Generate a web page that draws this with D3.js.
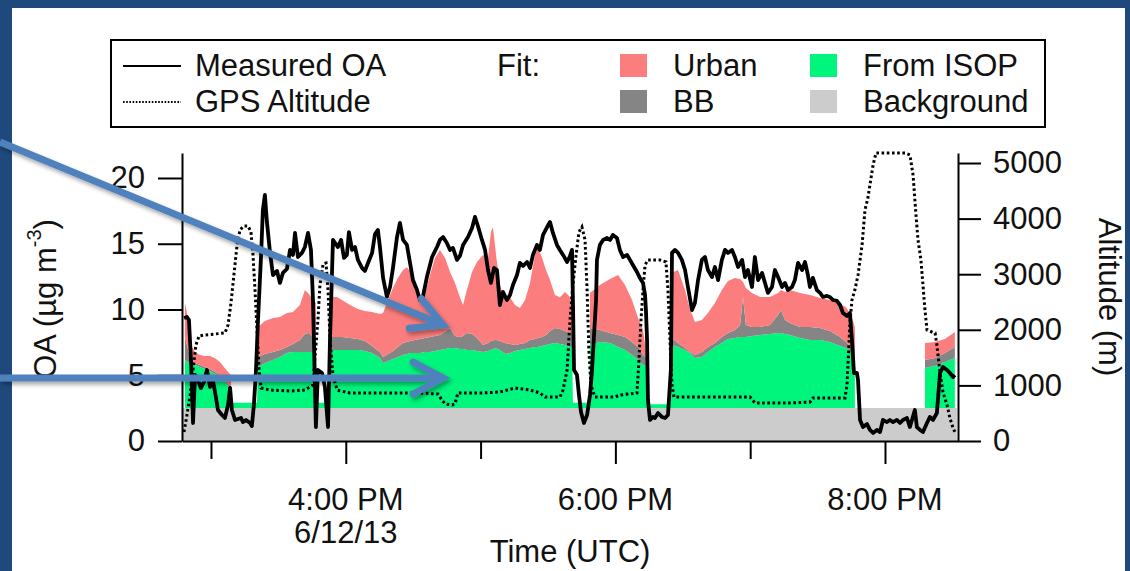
<!DOCTYPE html>
<html>
<head>
<meta charset="utf-8">
<script src="https://cdn.jsdelivr.net/npm/d3@7"></script>
<style>
  html, body { margin: 0; padding: 0; background: #1f497d; }
  svg { display: block; }
  text { font-family: "Liberation Sans", Arial, Helvetica, sans-serif; fill: #111; }
</style>
</head>
<body>
<svg id="chart" width="1130" height="571"></svg>
<script>
// ---- Flight of 6/12/13: times are minutes after 15:00 UTC ----

// Measured OA (µg m-3)
const oaTime = [-12.0,-10.7,-9.8,-8.9,-8.0,-7.1,-5.8,-4.5,-3.1,-1.8,-0.4,0.9,1.8,3.1,4.9,6.2,7.6,8.5,9.3,10.7,
  12.0,13.4,14.2,15.6,17.4,18.2,19.1,20.0,20.9,
  22.3,23.1,24.0,24.9,26.3,27.6,29.4,30.7,32.0,33.8,35.2,36.5,37.4,38.7,40.5,41.8,43.2,44.5,45.4,46.7,
  47.6,49.4,50.7,52.1,53.0,54.3,55.2,56.5,
  57.9,59.2,60.5,61.4,62.8,64.1,65.4,67.2,68.5,69.9,71.7,73.0,74.3,75.2,76.6,78.3,79.7,81.0,82.8,84.1,
  85.5,87.2,88.6,89.9,91.7,93.0,94.4,96.1,98.4,100.6,101.9,103.3,105.0,106.4,107.7,109.5,110.8,112.2,114.4,116.2,
  117.5,118.8,120.6,122.0,123.3,124.6,126.0,
  127.3,128.6,130.0,131.7,133.1,134.4,136.2,137.5,138.9,140.7,142.0,143.3,145.1,146.4,147.8,149.6,150.9,152.2,154.0,155.3,
  156.7,158.5,159.8,160.7,161.1,161.6,162.9,163.8,164.7,166.0,167.4,168.7,169.6,170.5,171.4,171.8,173.1,174.5,176.3,177.6,
  178.9,180.7,182.0,183.4,185.2,186.5,187.8,189.6,190.9,192.3,193.2,193.6,194.1,194.5,195.4,
  196.7,197.6,199.0,200.7,202.1,203.4,204.7,205.2,206.5,207.9,209.6,211.0,212.3,214.1,215.4,216.8,218.5,219.9,221.2,223.0,
  224.3,225.7,227.4,228.8,230.1,231.9,233.2,234.6,236.4,237.7,239.0,240.8,242.1,243.5,245.3,246.6,247.9,249.7,251.0,252.4,
  254.2,255.5,256.8,258.6,259.9,261.3,263.1,264.4,
  265.7,266.6,267.9,269.7,271.1,272.4,274.2,275.5,276.9,278.6,280.0,281.3,283.1,284.4,285.3,286.2,287.5,288.0,288.9,290.2,
  292.0,293.3,294.7,296.4,297.8,299.1,300.9,302.2,303.6,305.3,306.7,308.0,309.8,311.1,313.3,314.2,315.6,316.9,318.7,320.0,
  321.4,323.1,324.5,325.8,327.6,328.9,330.3,331.1];
const oaValue = [9.35,9.43,9.20,6.16,1.37,5.02,4.64,4.03,4.49,5.40,4.11,4.56,3.73,2.36,1.98,1.75,2.74,4.03,2.36,1.60,
  1.67,1.75,1.44,1.60,1.37,1.14,2.74,5.25,9.05,
  14.15,17.57,18.71,16.65,14.30,12.62,12.93,12.02,12.78,13.08,14.53,14.15,15.82,13.99,14.30,14.75,15.82,14.53,10.72,1.06,
  5.40,5.17,4.11,1.06,7.91,15.29,15.06,14.75,
  15.29,13.92,14.15,15.89,14.53,14.75,13.77,13.16,12.93,13.54,14.30,15.74,16.05,14.75,12.40,10.95,11.71,13.16,15.51,16.58,
  15.29,14.91,13.54,12.24,11.48,10.72,11.03,12.47,13.99,14.75,15.29,15.51,15.06,14.53,14.68,13.77,14.07,14.91,15.51,16.20,
  17.04,16.35,15.29,14.53,13.00,12.02,13.16,
  13.00,10.34,11.33,10.72,11.10,11.86,12.62,13.54,13.31,13.61,13.16,14.15,14.91,14.53,15.67,16.27,16.65,15.82,14.91,14.53,
  14.15,13.61,14.07,14.53,10.72,5.40,5.02,3.50,2.21,1.37,1.98,3.50,5.40,8.06,10.72,13.77,14.91,15.29,15.44,15.29,
  15.67,15.44,14.53,13.99,14.15,13.77,13.38,12.85,12.40,12.02,11.10,9.96,7.68,3.12,1.60,
  1.83,1.75,2.13,1.83,1.75,1.98,5.40,14.30,14.53,14.30,13.77,13.00,11.71,9.96,10.49,12.24,13.77,13.99,13.00,12.47,
  13.23,12.24,13.77,14.53,14.30,14.53,13.99,13.23,13.77,12.47,13.00,11.71,13.99,12.24,12.78,12.02,11.26,11.71,13.00,12.47,
  11.71,12.02,11.48,11.71,12.24,13.54,13.00,13.61,
  12.62,11.71,12.40,11.48,11.26,10.95,11.03,10.95,10.72,10.65,10.34,9.73,9.51,9.73,7.68,5.17,5.17,4.64,1.60,1.06,
  1.29,0.84,0.61,0.84,0.68,1.60,1.44,1.60,1.44,1.60,1.37,1.60,1.75,1.06,2.36,1.06,0.84,0.68,1.37,1.83,
  1.60,2.13,5.17,5.63,5.40,5.17,4.87,5.02];

// GPS altitude (m)
const altTime = [-12.0,-10.7,-9.3,-8.0,-6.7,-5.3,-2.7,1.8,6.2,7.6,8.9,10.2,11.6,12.9,14.7,16.5,17.8,18.7,19.6,20.5,
  21.4,22.3,26.3,35.2,41.8,45.4,46.3,47.6,48.5,49.9,51.2,52.1,53.0,54.3,56.1,61.9,75.2,93.0,101.0,102.8,
  104.2,107.3,108.6,109.9,119.7,128.6,135.3,142.0,146.4,148.7,155.3,156.7,158.5,159.8,161.1,162.5,163.8,165.1,166.5,167.4,
  168.2,169.1,170.9,179.8,182.0,189.6,190.5,191.4,192.3,193.2,194.5,199.8,202.5,203.4,204.3,205.2,206.1,217.6,239.9,242.1,
  257.7,266.6,267.9,282.2,283.1,284.4,285.3,286.6,288.0,289.8,291.1,292.4,293.3,294.7,296.0,302.2,308.9,311.1,312.5,313.8,
  314.7,316.0,316.9,317.8,318.7,320.9,322.3,323.1,324.5,325.8,327.6,328.9,330.3,331.1];
const altValue = [162,468,827,1277,1727,1889,1907,1925,1943,2087,2482,2986,3526,3796,3867,3867,3759,3345,2716,1997,
  1277,953,917,899,917,1007,1511,2176,2806,3183,3201,2716,1817,1187,917,863,863,863,845,737,
  666,648,666,863,863,881,953,917,863,791,791,917,1277,2176,2806,3346,3759,3849,3615,2716,
  1637,1007,791,791,827,863,1457,2176,2716,3166,3256,3256,3220,2716,1817,1007,791,791,791,684,
  684,702,774,774,1007,2122,2536,2716,2986,3526,4155,4371,4604,4964,5180,5180,5180,5144,4784,4065,
  3615,3256,2806,2356,1997,1961,1943,1727,1223,881,648,414,234,162];

// Fit components (µg m-3); null where the fit is not available
const fitTime = [-12.5,-11.6,-10.2,-8.9,-7.1,-4.9,-2.7,-0.4,1.8,4.0,6.2,7.6,8.9,
  9.3,20.5,
  20.9,24.0,27.6,30.7,33.8,36.5,39.6,41.8,43.6,45.4,46.7,
  47.2,53.0,
  53.4,56.1,58.3,61.9,65.4,68.5,71.7,75.2,76.6,78.8,
  81.0,83.2,85.5,87.2,88.6,90.8,93.0,95.3,97.5,99.7,
  101.9,104.2,106.4,108.6,110.8,112.2,113.9,116.2,118.4,121.1,
  123.3,124.6,125.5,126.9,128.6,130.9,133.1,135.3,137.5,139.8,
  142.0,144.2,145.5,147.3,149.1,150.9,153.1,155.3,157.6,159.8,160.7,
  161.1,168.2,
  168.7,173.1,177.6,181.2,184.3,187.4,190.1,192.3,193.6,
  194.1,204.3,
  204.7,207.9,211.0,213.2,215.4,218.5,221.2,224.3,227.4,230.1,
  233.2,235.5,236.8,238.1,240.8,244.4,248.8,252.4,253.7,255.5,
  257.7,262.2,266.6,271.1,275.5,280.0,282.6,284.9,286.6,
  287.1,317.4,
  317.8,322.3,326.7,331.1,332.0];
const fitBackground = [2.5,2.5,2.5,2.5,2.5,2.5,2.5,2.5,2.5,2.5,2.5,2.5,2.5,
  2.5,2.5,
  2.5,2.5,2.5,2.5,2.5,2.5,2.5,2.5,2.5,2.5,2.5,
  2.5,2.5,
  2.5,2.5,2.5,2.5,2.5,2.5,2.5,2.5,2.5,2.5,
  2.5,2.5,2.5,2.5,2.5,2.5,2.5,2.5,2.5,2.5,
  2.5,2.5,2.5,2.5,2.5,2.5,2.5,2.5,2.5,2.5,
  2.5,2.5,2.5,2.5,2.5,2.5,2.5,2.5,2.5,2.5,
  2.5,2.5,2.5,2.5,2.5,2.5,2.5,2.5,2.5,2.5,2.5,
  2.5,2.5,
  2.5,2.5,2.5,2.5,2.5,2.5,2.5,2.5,2.5,
  2.5,2.5,
  2.5,2.5,2.5,2.5,2.5,2.5,2.5,2.5,2.5,2.5,
  2.5,2.5,2.5,2.5,2.5,2.5,2.5,2.5,2.5,2.5,
  2.5,2.5,2.5,2.5,2.5,2.5,2.5,2.5,2.5,
  2.5,2.5,
  2.5,2.5,2.5,2.5,2.5];
const fitIsop = [null,3.66,3.51,3.35,3.28,3.13,2.97,2.82,2.59,2.37,1.98,1.68,1.53,
  0.4,0.4,
  3.13,3.43,3.66,3.89,4.19,4.27,4.27,4.27,4.27,4.27,4.19,
  0.4,0.4,
  4.42,4.42,4.42,4.42,4.42,4.34,4.19,3.81,3.43,3.58,
  3.73,3.89,4.04,4.11,4.19,4.19,4.19,4.27,4.27,4.34,
  4.42,4.49,4.57,4.57,4.49,4.49,4.42,4.42,4.34,4.27,
  4.34,4.42,4.49,4.57,4.42,4.11,4.19,4.34,4.42,4.49,
  4.57,4.65,4.65,4.72,4.80,4.87,4.95,4.87,4.80,4.65,4.65,
  0.4,0.4,
  4.80,5.03,4.95,4.65,4.42,4.04,3.66,3.28,3.20,
  0.3,0.3,
  4.80,4.65,4.42,4.19,3.81,3.89,4.27,4.65,4.95,5.26,
  5.33,5.41,5.41,5.41,5.48,5.56,5.64,5.71,5.71,5.64,
  5.56,5.33,5.18,5.18,5.03,4.72,4.57,4.34,4.19,
  null,null,
  3.05,3.20,3.51,3.81,null];
const fitBb = [null,1.75,0.91,0.30,0.15,0.15,0.15,0.15,0.15,0.15,0.15,0.15,0.15,
  null,null,
  0.76,0.68,0.61,0.53,0.46,0.61,0.91,1.37,1.44,1.14,1.14,
  null,null,
  0.99,0.99,0.99,0.91,0.84,0.76,0.53,0.46,0.46,0.53,
  0.61,0.76,0.91,0.91,0.91,0.99,1.06,1.06,1.14,1.14,
  1.14,1.29,1.52,0.91,0.91,0.99,1.29,1.22,0.99,0.53,
  0.61,0.68,0.68,0.61,0.68,0.84,0.68,0.46,0.46,0.46,
  0.61,0.61,0.68,0.68,0.76,0.99,1.14,1.14,1.06,1.06,1.06,
  null,null,
  1.29,0.91,0.76,0.91,0.99,0.99,0.99,0.76,0.68,
  null,null,
  0.61,0.30,0.15,0.08,0.23,0.38,0.38,0.30,0.46,0.46,
  0.61,0.91,3.04,0.91,0.68,0.61,0.68,1.37,1.75,1.06,
  0.91,0.84,0.99,0.91,0.84,0.68,0.46,0.30,0.23,
  null,null,
  0.61,0.61,0.68,0.84,null];
const fitUrban = [null,2.59,2.43,1.14,0.84,0.76,0.84,0.99,1.06,0.99,0.91,0.91,0.84,
  null,null,
  2.28,2.51,2.59,2.51,2.59,2.43,2.66,3.35,2.97,2.81,2.66,
  null,null,
  3.04,3.04,2.81,2.51,2.28,2.28,2.59,2.89,3.35,4.11,
  4.79,5.25,5.55,5.70,5.32,3.80,2.97,3.42,4.72,5.93,
  6.46,5.63,4.26,4.03,3.04,2.36,3.27,4.72,5.78,6.84,
  6.46,8.29,8.59,6.46,4.26,3.27,3.57,3.04,2.74,3.27,
  4.33,6.39,6.84,6.08,4.94,3.88,2.51,2.43,2.97,2.74,2.74,
  null,null,
  2.66,3.42,4.11,4.56,3.95,3.19,2.21,1.90,0.53,
  null,null,
  4.87,5.55,4.41,3.27,2.51,2.43,2.59,3.04,3.57,3.95,
  3.95,3.50,1.14,2.81,2.59,2.28,2.13,1.67,1.52,2.13,
  2.51,2.59,2.43,2.28,2.36,2.51,2.66,2.43,1.75,
  null,null,
  1.29,1.22,1.06,1.14,null];

// Series keys, legend names and fills (bottom to top)
const fitKeys   = ["background", "isop", "bb", "urban"];
const fitLabels = ["Background", "From ISOP", "BB", "Urban"];
const fitColors = ["#cccccc", "#00f57c", "#858585", "#fb7d7d"];

// Axis ticks and labels
const oaTicks  = [0, 5, 10, 15, 20];
const altTicks = [0, 1000, 2000, 3000, 4000, 5000];
const hourTicks = [15, 16, 17, 18, 19, 20];
const labeledHours = [16, 18, 20];
const hourLabels = ["4:00 PM", "6:00 PM", "8:00 PM"];
const dateLabel = "6/12/13";

// ---- drawing ----
const W = 1130, H = 571;
const plot = { left: 182, right: 958, top: 153, bottom: 441 };
const FONT = 31;

const t0 = Date.UTC(2013, 5, 12, 15, 0, 0);
const toDate = m => new Date(t0 + m * 60000);
const hourDate = h => new Date(Date.UTC(2013, 5, 12, h, 0, 0));

const svg = d3.select("#chart");

const defs = svg.append("defs");
const shadow = defs.append("filter").attr("id", "arrowShadow")
  .attr("x", "-10%").attr("y", "-50%").attr("width", "120%").attr("height", "200%");
shadow.append("feDropShadow").attr("dx", 2).attr("dy", 3).attr("stdDeviation", 2)
  .attr("flood-color", "#000").attr("flood-opacity", 0.35);

// slide background and white panel
svg.append("rect").attr("width", W).attr("height", H).attr("fill", "#1f497d");
svg.append("rect").attr("x", 12).attr("y", 8).attr("width", 1113).attr("height", H - 8).attr("fill", "#fff");

const x = d3.scaleUtc().domain([toDate(-12.9), toDate(332.5)]).range([plot.left, plot.right]);
const yOA = d3.scaleLinear().domain([0, 21.9]).range([plot.bottom, plot.top]);
const yAlt = d3.scaleLinear().domain([0, 5180]).range([plot.bottom, plot.top]);

// stacked fit areas
const fitRows = fitTime.map((t, i) => ({
  time: toDate(t),
  background: fitBackground[i],
  isop: fitIsop[i],
  bb: fitBb[i],
  urban: fitUrban[i]
}));
const stacked = d3.stack().keys(fitKeys).value((d, k) => d[k] == null ? 0 : d[k])(fitRows);

const gFit = svg.append("g");
stacked.forEach((layer, li) => {
  const area = d3.area()
    .defined(d => d.data[layer.key] != null)
    .x(d => x(d.data.time))
    .y0(d => yOA(d[0]))
    .y1(d => yOA(d[1]));
  gFit.append("path").datum(layer)
    .attr("fill", fitColors[li])
    .attr("d", area);
});

// GPS altitude (dotted)
const altData = altTime.map((t, i) => ({ time: toDate(t), v: altValue[i] }));
svg.append("path").datum(altData)
  .attr("fill", "none").attr("stroke", "#000").attr("stroke-width", 3)
  .attr("stroke-dasharray", "2.6 2.6")
  .attr("d", d3.line().x(d => x(d.time)).y(d => yAlt(d.v)));

// measured OA
const oaData = oaTime.map((t, i) => ({ time: toDate(t), v: oaValue[i] }));
svg.append("path").datum(oaData)
  .attr("fill", "none").attr("stroke", "#000").attr("stroke-width", 3.8)
  .attr("stroke-linejoin", "round")
  .attr("d", d3.line().x(d => x(d.time)).y(d => yOA(d.v)));

// axes
function styleAxis(g) {
  g.attr("font-size", FONT).attr("font-family", null);
  g.selectAll("path, line").attr("stroke", "#000").attr("stroke-width", 2);
  g.selectAll("text").attr("fill", "#111");
}
const gLeft = svg.append("g").attr("transform", `translate(${plot.left},0)`)
  .call(d3.axisLeft(yOA).tickValues(oaTicks).tickSize(24).tickSizeOuter(0).tickPadding(13));
styleAxis(gLeft);

const gRight = svg.append("g").attr("transform", `translate(${plot.right},0)`)
  .call(d3.axisRight(yAlt).tickValues(altTicks).tickFormat(d3.format("d"))
    .tickSize(23).tickSizeOuter(0).tickPadding(12));
styleAxis(gRight);

const gBottom = svg.append("g").attr("transform", `translate(0,${plot.bottom})`)
  .call(d3.axisBottom(x).tickValues(hourTicks.map(hourDate)).tickSize(18).tickSizeOuter(0).tickFormat(""));
styleAxis(gBottom);
gBottom.selectAll(".tick line")
  .filter(d => labeledHours.includes(d.getUTCHours()))
  .attr("y2", 23);

labeledHours.forEach((h, i) => {
  svg.append("text").attr("x", x(hourDate(h))).attr("y", 510)
    .attr("text-anchor", "middle").attr("font-size", FONT).text(hourLabels[i]);
});
svg.append("text").attr("x", x(hourDate(labeledHours[0]))).attr("y", 543)
  .attr("text-anchor", "middle").attr("font-size", FONT).text(dateLabel);
svg.append("text").attr("x", (plot.left + plot.right) / 2).attr("y", 562)
  .attr("text-anchor", "middle").attr("font-size", FONT).text("Time (UTC)");

// axis titles
const leftTitle = svg.append("text").attr("transform", "translate(56,299) rotate(-90)")
  .attr("text-anchor", "middle").attr("font-size", FONT);
leftTitle.append("tspan").text("OA (µg m");
leftTitle.append("tspan").attr("font-size", 20).attr("dy", -15).text("-3");
leftTitle.append("tspan").attr("dy", 15).text(")");

svg.append("text").attr("transform", "translate(1099,297) rotate(90)")
  .attr("text-anchor", "middle").attr("font-size", FONT).text("Altitude (m)");

// legend
const lg = svg.append("g");
lg.append("rect").attr("x", 111).attr("y", 40).attr("width", 934).attr("height", 87)
  .attr("fill", "#fff").attr("stroke", "#000").attr("stroke-width", 2);
lg.append("line").attr("x1", 123).attr("x2", 181).attr("y1", 66).attr("y2", 66)
  .attr("stroke", "#000").attr("stroke-width", 2.2);
lg.append("line").attr("x1", 123).attr("x2", 181).attr("y1", 102).attr("y2", 102)
  .attr("stroke", "#000").attr("stroke-width", 2).attr("stroke-dasharray", "1.6 1.6");
lg.append("text").attr("x", 195).attr("y", 76).attr("font-size", FONT).text("Measured OA");
lg.append("text").attr("x", 195).attr("y", 112).attr("font-size", FONT).text("GPS Altitude");
lg.append("text").attr("x", 497).attr("y", 76).attr("font-size", FONT).text("Fit:");

// legend grid: column by swatch x, row by baseline
const legendSlots = { urban: [620, 0], bb: [620, 1], isop: [810, 0], background: [810, 1] };
fitKeys.forEach((k, i) => {
  const [sx, row] = legendSlots[k];
  const base = row === 0 ? 76 : 112;
  lg.append("rect").attr("x", sx).attr("y", base - 22).attr("width", 27).attr("height", 23)
    .attr("fill", fitColors[i]);
  lg.append("text").attr("x", sx + 53).attr("y", base).attr("font-size", FONT).text(fitLabels[i]);
});

// annotation arrows pointing at the Urban and ISOP layers
const arrowTargets = [
  { time: 103.3, value: 8.82, startY: 142 },
  { time: 103.3, value: 4.79, startY: 378 }
];
const gArrows = svg.append("g").attr("filter", "url(#arrowShadow)");
arrowTargets.forEach(a => {
  const tx = x(toDate(a.time)), ty = yOA(a.value);
  const sx = 0, sy = a.startY;
  const ang = Math.atan2(ty - sy, tx - sx);
  const L = 34, th = 28 * Math.PI / 180;
  const p1 = [tx - L * Math.cos(ang - th), ty - L * Math.sin(ang - th)];
  const p2 = [tx - L * Math.cos(ang + th), ty - L * Math.sin(ang + th)];
  gArrows.append("line")
    .attr("x1", sx).attr("y1", sy)
    .attr("x2", tx - 4 * Math.cos(ang)).attr("y2", ty - 4 * Math.sin(ang))
    .attr("stroke", "#4f81bd").attr("stroke-width", 7);
  gArrows.append("path")
    .attr("d", `M${p1[0]},${p1[1]}L${tx},${ty}L${p2[0]},${p2[1]}`)
    .attr("fill", "none").attr("stroke", "#4f81bd").attr("stroke-width", 7)
    .attr("stroke-linejoin", "miter").attr("stroke-linecap", "round");
});
</script>
</body>
</html>
